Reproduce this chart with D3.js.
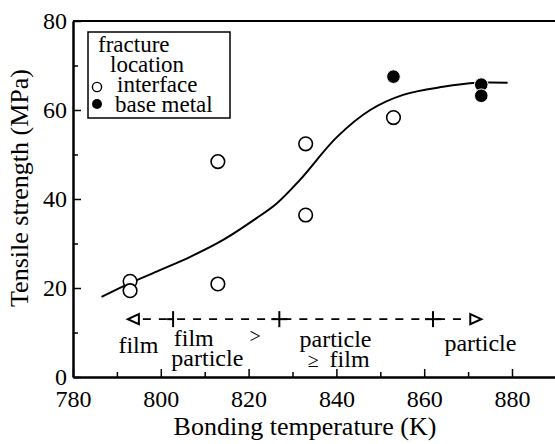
<!DOCTYPE html>
<html>
<head>
<meta charset="utf-8">
<script src="https://cdn.jsdelivr.net/npm/d3@7"></script>
<style>
  body { margin: 0; background: #fff; }
  text { font-family: "Liberation Serif", "DejaVu Serif", "Times New Roman", serif; fill: #000; }
</style>
</head>
<body>
<div id="chart"></div>
<script>
// data
const interfacePts = [[793, 21.5], [793, 19.4], [813, 48.4], [813, 20.9], [833, 52.4], [833, 36.4], [853, 58.3]];
const baseMetalPts = [[853, 67.5], [873, 65.7], [873, 63.2]];
const fitCurve = [[786.5, 18.0], [793, 21.1], [799.8, 24.0], [806.7, 27.0], [814.2, 30.8], [821.8, 35.7],
                  [826.4, 39.0], [831.7, 44.3], [840.1, 53.9], [847.7, 60.0], [855.2, 63.4], [864.3, 65.2],
                  [872, 66.1], [879, 66.1]];
const xMajor = [780, 800, 820, 840, 860, 880];
const xMinor = [790, 810, 830, 850, 870, 890];
const yMajor = [0, 20, 40, 60, 80];
const yMinor = [10, 30, 50, 70];
const regionMarks = [792.5, 802.8, 827, 862, 873];   // arrow tip, boundaries, arrow tip
const regionLevel = 13;
const regionLabels = [
  {text: "film", x: 794.9, y: 5.4},
  {text: "film", x: 807.5, y: 7.0},
  {text: ">", x: 821.5, y: 7.7, small: true},
  {text: "particle", x: 810.6, y: 2.5},
  {text: "particle", x: 839.8, y: 6.8},
  {text: "≥", x: 834.7, y: 2.2, small: true},
  {text: "film", x: 843.0, y: 2.2},
  {text: "particle", x: 872.8, y: 5.8}
];

const W = 555, H = 444;
const svg = d3.select("#chart").append("svg").attr("width", W).attr("height", H);
const x = d3.scaleLinear().domain([780, 900]).range([73, 73 + 120 * 4.39]);
const y = d3.scaleLinear().domain([0, 80]).range([377, 21]);

// axes with inward ticks
svg.append("g").attr("transform", `translate(0,${y(0)})`)
  .call(d3.axisBottom(x).tickValues(xMajor).tickSize(-8).tickSizeOuter(0).tickPadding(13).tickFormat(d3.format("d")));
svg.append("g").attr("transform", `translate(0,${y(0)})`)
  .call(d3.axisBottom(x).tickValues(xMinor).tickSize(-5).tickSizeOuter(0).tickFormat(""));
svg.append("g").attr("transform", `translate(${x(780)},0)`)
  .call(d3.axisLeft(y).tickValues(yMajor).tickSize(-8).tickSizeOuter(0).tickPadding(6));
svg.append("g").attr("transform", `translate(${x(780)},0)`)
  .call(d3.axisLeft(y).tickValues(yMinor).tickSize(-5).tickSizeOuter(0).tickFormat(""));
svg.selectAll(".domain").attr("stroke-width", 2);
svg.selectAll(".tick line").attr("stroke-width", 1.5);
svg.selectAll(".tick text").attr("font-size", 24);
// top frame line
svg.append("line").attr("x1", x(780)).attr("x2", W).attr("y1", y(80)).attr("y2", y(80))
  .attr("stroke", "#000").attr("stroke-width", 2);

// axis titles
svg.append("text").attr("x", 305).attr("y", 435).attr("text-anchor", "middle")
  .attr("font-size", 26).text("Bonding temperature (K)");
svg.append("text").attr("transform", "translate(28,188) rotate(-90)").attr("text-anchor", "middle")
  .attr("font-size", 26).text("Tensile strength (MPa)");

// fitted curve
const line = d3.line().x(d => x(d[0])).y(d => y(d[1])).curve(d3.curveCatmullRom);
svg.append("path").datum(fitCurve).attr("d", line)
  .attr("fill", "none").attr("stroke", "#000").attr("stroke-width", 2);

// points
svg.selectAll(".open").data(interfacePts).join("circle")
  .attr("cx", d => x(d[0])).attr("cy", d => y(d[1])).attr("r", 6.8)
  .attr("fill", "#fff").attr("stroke", "#000").attr("stroke-width", 1.6);
svg.selectAll(".filled").data(baseMetalPts).join("circle")
  .attr("cx", d => x(d[0])).attr("cy", d => y(d[1])).attr("r", 6.8)
  .attr("fill", "#000").attr("stroke", "#fff").attr("stroke-width", 1);

// legend
const lg = svg.append("g");
lg.append("rect").attr("x", 88).attr("y", 32).attr("width", 142).attr("height", 86)
  .attr("fill", "#fff").attr("stroke", "#000").attr("stroke-width", 1.5);
lg.append("text").attr("x", 98).attr("y", 52).attr("font-size", 23).text("fracture");
lg.append("text").attr("x", 110).attr("y", 72).attr("font-size", 23).text("location");
lg.append("text").attr("x", 117).attr("y", 92).attr("font-size", 23).text("interface");
lg.append("text").attr("x", 115).attr("y", 112).attr("font-size", 23).text("base metal");
lg.append("circle").attr("cx", 97).attr("cy", 87).attr("r", 4.6).attr("fill", "#fff").attr("stroke", "#000").attr("stroke-width", 1.4);
lg.append("circle").attr("cx", 97).attr("cy", 104).attr("r", 5).attr("fill", "#000");

// region annotation
const ry = y(regionLevel);
const rg = svg.append("g").attr("stroke", "#000").attr("stroke-width", 1.6).attr("fill", "none");
const segs = [[regionMarks[0] + 2.5, regionMarks[1]], [regionMarks[1], regionMarks[2]],
              [regionMarks[2], regionMarks[3]], [regionMarks[3], regionMarks[4] - 2.5]];
rg.selectAll(".seg").data(segs).join("line")
  .attr("x1", d => x(d[0]) + 4).attr("x2", d => x(d[1]) - 4).attr("y1", ry).attr("y2", ry)
  .attr("stroke-dasharray", "8,8");
// boundary bars
rg.selectAll(".bar").data(regionMarks.slice(1, 4)).join("line")
  .attr("x1", d => x(d)).attr("x2", d => x(d)).attr("y1", ry - 8).attr("y2", ry + 8).attr("stroke-width", 2);
rg.selectAll(".cross").data(regionMarks.slice(2, 4)).join("line")
  .attr("x1", d => x(d) - 8).attr("x2", d => x(d) + 8).attr("y1", ry).attr("y2", ry).attr("stroke-width", 2);
rg.append("line").attr("x1", x(regionMarks[1]) - 6).attr("x2", x(regionMarks[1])).attr("y1", ry).attr("y2", ry).attr("stroke-width", 2);
// arrow heads (open triangles)
const lt = x(regionMarks[0]), rt = x(regionMarks[4]);
rg.append("path").attr("d", `M${lt},${ry} L${lt + 11},${ry - 5} L${lt + 11},${ry + 5} Z`).attr("stroke-width", 2);
rg.append("path").attr("d", `M${rt},${ry} L${rt - 11},${ry - 5} L${rt - 11},${ry + 5} Z`).attr("stroke-width", 2);

svg.selectAll(".rlab").data(regionLabels).join("text")
  .attr("x", d => x(d.x)).attr("y", d => y(d.y)).attr("text-anchor", "middle")
  .attr("font-size", d => d.small ? 20 : 24).text(d => d.text);
</script>
</body>
</html>
